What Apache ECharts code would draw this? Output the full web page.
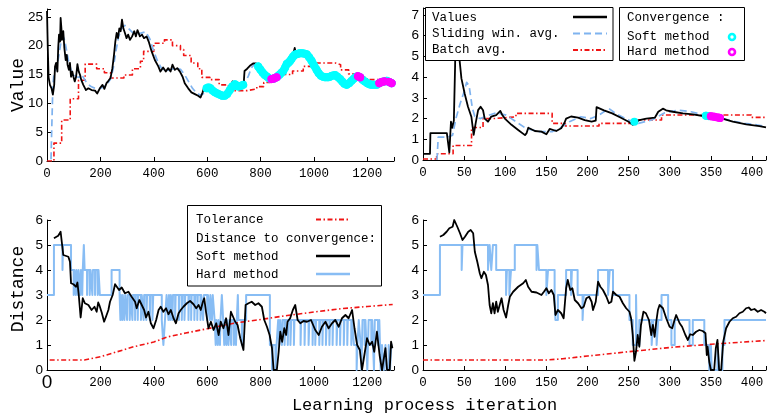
<!DOCTYPE html>
<html>
<head>
<meta charset="utf-8">
<script src="https://cdn.jsdelivr.net/npm/echarts/dist/echarts.min.js"></script>
<style>
  html, body { margin: 0; padding: 0; background: #fff; }
  #chart { width: 769px; height: 415px; }
</style>
</head>
<body>
<div id="chart"></div>
<script>
// ---------- Long run (iterations 0..1300) ----------
const valuesLong = [[0,26.0],[3,19.5],[6,14.5],[11,13.2],[17,12.6],[22,11.5],[24,11.8],[27,13.2],[30,16.4],[34,17.0],[39,15.5],[42,19.6],[45,21.9],[49,20.7],[51,24.8],[54,23.0],[56,21.0],[61,22.5],[65,19.6],[70,17.5],[74,18.4],[77,16.7],[82,15.8],[86,17.0],[90,14.6],[95,15.5],[99,14.6],[104,13.8],[109,14.6],[114,16.8],[119,15.5],[124,14.9],[128,14.1],[136,13.2],[146,12.3],[155,12.6],[167,12.3],[180,12.2],[188,11.7],[198,12.6],[208,13.2],[215,12.5],[223,13.5],[230,13.9],[238,14.4],[245,16.1],[251,18.4],[256,20.7],[261,22.2],[266,21.3],[271,23.0],[276,22.5],[281,24.5],[286,23.0],[292,22.2],[298,21.3],[304,21.9],[311,21.0],[319,21.6],[327,22.5],[333,21.6],[339,22.7],[348,21.6],[356,21.9],[363,21.3],[373,21.6],[381,20.7],[392,19.0],[404,17.5],[417,16.4],[425,15.5],[435,16.2],[445,15.5],[454,16.1],[463,15.5],[470,16.7],[479,15.8],[488,16.1],[498,15.5],[508,14.6],[516,13.5],[529,12.6],[541,11.9],[554,11.6],[566,11.3],[575,11.0],[583,11.9],[590,12.9],[598,12.9],[604,12.5],[610,12.9],[616,12.3],[622,12.4],[629,11.8],[636,12.0],[643,11.4],[650,11.6],[657,11.1],[664,11.5],[670,11.2],[677,11.9],[684,12.2],[690,13.0],[695,13.8],[698,14.1],[702,13.3],[708,13.5],[714,12.7],[720,13.2],[727,12.8],[733,13.0],[737,13.4],[740,15.6],[745,15.4],[750,16.0],[755,15.8],[760,16.5],[766,16.8],[772,16.9],[778,17.2],[784,16.9],[790,16.4],[797,16.0],[804,15.4],[812,15.2],[820,14.6],[828,14.7],[836,14.1],[844,14.4],[852,14.0],[860,14.8],[867,14.6],[874,15.4],[881,15.2],[888,16.1],[895,16.4],[902,17.3],[909,17.1],[916,18.0],[922,18.4],[928,19.6],[932,18.7],[938,18.9],[945,18.4],[952,18.9],[960,18.5],[968,18.8],[976,18.2],[984,17.9],[992,17.2],[1000,16.8],[1008,15.9],[1016,15.4],[1024,14.6],[1032,14.8],[1040,14.3],[1048,14.7],[1056,14.4],[1064,14.9],[1072,14.6],[1080,15.1],[1088,14.5],[1096,14.3],[1104,13.6],[1112,13.6],[1120,13.0],[1128,13.4],[1136,13.7],[1144,14.1],[1152,14.2],[1160,14.8],[1168,14.5],[1176,14.6],[1184,13.9],[1192,13.9],[1200,13.3],[1208,13.5],[1216,13.0],[1224,13.4],[1232,13.1],[1240,13.6],[1248,13.4],[1256,13.9],[1264,13.6],[1272,14.0],[1280,13.6],[1288,13.6],[1294,13.3]];

const slidingLong = [[15,0.3],[18,6],[22,13],[26,15.2],[32,15.5],[38,16.5],[45,18.5],[52,20.5],[60,21.6],[66,21],[72,19.5],[80,17.5],[90,15.8],[100,15.0],[110,14.6],[120,14.5],[130,15],[140,14.2],[150,13.5],[165,12.9],[180,12.6],[195,12.5],[210,12.8],[225,13.3],[238,14.2],[248,16],[258,19],[268,21.5],[280,23],[292,23.5],[305,23],[320,22.3],[340,22],[355,22.2],[370,22.4],[385,21.2],[400,19],[415,17.2],[430,16],[445,15.6],[460,15.8],[480,16.1],[500,15.9],[515,15],[530,13.8],[545,12.6],[560,11.8],[575,11.4],[590,11.8],[598,12.6],[605,12.8],[612,12.6],[620,12.2],[629,11.9],[638,11.7],[648,11.5],[657,11.3],[666,11.3],[675,11.6],[685,12.3],[694,12.9],[704,13.3],[710,13.1],[716,12.9],[725,13.0],[735,13.2],[745,13.8],[755,14.8],[766,16.2],[778,16.8],[791,16.4],[800,15.8],[808,15.3],[816,14.9],[825,14.6],[833,14.3],[841,14.2],[850,14.3],[860,14.5],[866,14.8],[872,15.0],[878,15.3],[885,15.6],[892,16.2],[898,16.8],[904,17.0],[910,17.3],[916,17.7],[922,18.1],[928,18.4],[933,18.5],[940,18.6],[948,18.7],[956,18.7],[965,18.6],[973,18.5],[982,18.0],[991,17.4],[1000,16.6],[1010,15.8],[1018,15.2],[1026,14.8],[1035,14.6],[1043,14.5],[1052,14.5],[1060,14.6],[1068,14.8],[1079,14.9],[1088,14.6],[1098,14.2],[1106,13.8],[1114,13.4],[1123,13.2],[1132,13.5],[1141,13.9],[1150,14.3],[1158,14.6],[1165,14.7],[1173,14.5],[1182,14.1],[1191,13.8],[1200,13.5],[1208,13.3],[1216,13.2],[1225,13.2],[1235,13.2],[1245,13.5],[1254,13.7],[1263,13.8],[1273,13.9],[1282,13.7],[1291,13.5]];

const batchLong = [[0,0],[26,3.1],[55,7.1],[87,10.8],[118,14.0],[143,16.8],[186,16.0],[215,15.3],[238,14.4],[288,14.9],[320,16.0],[350,17.3],[362,19.0],[400,20.4],[440,21.0],[470,20.0],[500,19.3],[512,18.3],[540,17.0],[565,16.0],[580,14.5],[610,14.1],[645,13.2],[680,12.2],[750,12.5],[786,12.9],[812,13.6],[835,14.4],[870,15.0],[920,15.6],[960,16.4],[1000,17.0],[1080,16.7],[1100,15.8],[1130,15.1],[1160,14.5],[1200,14.1],[1260,13.9],[1296,13.9]];

// iteration ranges where convergence was detected
const softLongRanges = [[598,735],[791,1291]];
const hardLongRanges = [[838,862],[1163,1174],[1243,1266],[1278,1291]];

const toleranceLong = [[10,0.4],[140,0.4],[200,0.53],[260,0.72],[325,0.93],[400,1.12],[450,1.32],[520,1.48],[600,1.65],[700,1.87],[800,2.02],[900,2.18],[1000,2.32],[1100,2.45],[1200,2.54],[1295,2.62]];

const softDistLong = [[26,5.27],[42,5.37],[51,5.53],[57,5.56],[61,4.6],[67,4.63],[80,4.53],[86,4.33],[90,3.47],[99,3.43],[109,3.33],[114,3.5],[119,3.0],[126,2.1],[134,2.87],[142,2.67],[155,2.6],[167,2.4],[178,2.53],[186,2.33],[192,2.7],[196,2.6],[205,2.3],[214,1.93],[221,2.13],[230,2.4],[236,2.73],[246,3.0],[255,3.43],[261,3.5],[270,3.2],[280,3.3],[292,3.07],[305,3.13],[317,2.93],[330,2.73],[336,2.47],[346,2.8],[355,2.6],[364,2.4],[371,2.1],[380,2.33],[389,1.87],[399,1.67],[409,2.0],[418,2.4],[426,2.53],[436,2.33],[446,2.47],[455,2.23],[464,2.4],[474,2.07],[483,1.87],[493,2.27],[501,2.4],[511,2.53],[524,2.67],[536,2.76],[549,2.63],[559,2.47],[568,2.6],[576,2.4],[584,2.73],[589,2.87],[596,2.3],[605,1.67],[614,1.93],[624,1.6],[634,1.87],[643,1.4],[651,1.93],[661,1.67],[671,2.07],[680,1.4],[689,2.33],[696,2.4],[705,1.93],[714,1.8],[724,1.27],[736,0.8],[744,2.6],[755,2.67],[767,2.73],[780,2.6],[792,2.67],[805,2.53],[814,2.0],[824,1.73],[834,1.4],[843,0.87],[849,0],[861,0],[868,0.73],[874,1.53],[881,1.13],[889,1.67],[896,1.4],[901,1.93],[911,2.07],[921,2.4],[930,2.6],[939,2.0],[949,1.87],[961,1.96],[974,1.93],[989,2.0],[1005,1.6],[1018,1.4],[1030,1.73],[1043,1.93],[1055,1.67],[1068,1.87],[1080,2.0],[1093,1.73],[1105,2.07],[1118,2.2],[1130,2.07],[1143,2.4],[1152,1.67],[1162,1.0],[1172,0.8],[1180,0],[1189,0.6],[1199,1.27],[1209,1.0],[1218,1.13],[1226,0.73],[1236,1.53],[1246,0.6],[1255,0],[1268,0.87],[1274,0],[1284,0],[1289,1.13],[1294,0.87]];

const hardDistLong = [[0,3],[26,5],[58,4],[60,5],[90,4],[100,3],[102,4],[108,3],[110,4],[116,3],[118,4],[124,3],[127,4],[132,3],[134,4],[138,5],[141,4],[150,3],[152,4],[160,3],[163,4],[170,3],[172,4],[180,3],[182,4],[190,3],[193,4],[198,3],[242,4],[272,3],[275,2],[277,3],[282,2],[284,3],[290,2],[293,3],[300,2],[302,3],[310,2],[313,3],[320,2],[322,3],[330,2],[332,3],[340,2],[342,3],[352,2],[355,3],[362,2],[364,3],[372,2],[375,3],[385,2],[387,3],[395,2],[398,3],[430,2],[436,1],[442,2],[448,3],[455,2],[457,3],[462,2],[464,3],[470,2],[472,3],[480,2],[482,3],[494,2],[496,3],[505,2],[507,3],[515,2],[518,3],[530,2],[532,3],[540,2],[542,3],[552,2],[555,3],[563,2],[565,3],[575,2],[578,3],[585,2],[588,3],[600,2],[603,3],[610,2],[612,3],[618,2],[621,3],[628,2],[632,1],[634,2],[640,1],[642,2],[648,1],[650,2],[655,3],[660,2],[664,1],[666,2],[672,1],[674,2],[680,1],[683,2],[690,1],[692,2],[700,1],[702,2],[708,1],[711,2],[715,3],[717,2],[730,1],[733,2],[746,3],[835,1],[843,0],[846,1],[856,0],[860,1],[866,2],[870,1],[873,2],[880,1],[882,2],[890,1],[893,2],[902,1],[904,2],[912,1],[915,2],[925,1],[927,2],[950,1],[952,2],[965,1],[967,2],[980,1],[983,2],[995,1],[997,2],[1005,1],[1008,2],[1020,1],[1023,2],[1032,1],[1034,2],[1045,1],[1048,2],[1058,1],[1060,2],[1070,1],[1072,2],[1085,1],[1088,2],[1098,1],[1100,2],[1112,1],[1114,2],[1125,1],[1127,2],[1140,1],[1143,2],[1150,1],[1160,0],[1163,1],[1168,2],[1175,1],[1178,0],[1182,2],[1190,1],[1193,2],[1200,0],[1205,2],[1215,1],[1218,2],[1225,0],[1228,2],[1240,1],[1245,2],[1250,0],[1255,1],[1262,0],[1268,1],[1272,0],[1280,1],[1285,0],[1290,1],[1294,1]];

// ---------- Short run (iterations 0..417) ----------
const valuesShort = [[0,0.3],[8.5,0.3],[9,1.3],[29,1.3],[32,0.37],[34,1.85],[35.5,1.55],[37.5,1.9],[39,4.5],[40.5,7.8],[42,6.5],[44,5.0],[46.7,3.94],[50.7,3.2],[54.7,2.57],[58.8,2.09],[61.6,1.21],[64,1.77],[67,2.41],[70,2.57],[73,2.4],[75,2.0],[79,1.85],[83,2.1],[89,2.17],[94,2.37],[96,2.2],[99.5,2.0],[107.6,1.7],[115.7,1.45],[124,1.2],[126,1.3],[128,1.56],[136,1.4],[144,1.37],[150,1.24],[154,1.5],[162,1.4],[168,1.53],[172,1.8],[174,2.0],[180,2.1],[188.5,2.05],[196.6,1.93],[205,1.85],[207,1.85],[210,1.9],[211,2.55],[220,2.4],[230,2.25],[240,2.05],[250,1.85],[255,1.7],[263,1.93],[271.5,2.0],[282,2.05],[286,2.33],[291.6,2.48],[295.6,2.4],[303.7,2.33],[316,2.25],[328,2.2],[344,2.1],[361,2.03],[376.6,1.85],[393,1.72],[409,1.64],[417,1.58]];

const slidingShort = [[17,0],[18.5,1.1],[30,1.1],[36,1.2],[40,2.0],[45,2.7],[50,3.3],[53,3.75],[56,3.6],[60,2.5],[63,2.1],[69.4,2.0],[80.9,2.17],[89,2.28],[101,2.17],[113,1.85],[125,1.53],[141,1.37],[157,1.37],[166,1.53],[178,1.85],[192,2.09],[204,2.0],[214,2.17],[226,2.49],[234,2.25],[250,1.93],[257,1.85],[262,1.77],[278,1.93],[294,2.28],[310,2.41],[326,2.33],[342,2.17],[344,2.14],[347,2.12],[350,2.11],[354,2.09],[359,2.05],[361,2.03],[375,1.89],[391,1.77],[407,1.69],[417,1.61]];

const batchShort = [[0,0.05],[16.6,0.3],[36.6,0.7],[59,1.57],[73,2.0],[85,2.08],[113,2.25],[157,1.77],[173,1.64],[214,1.77],[254,1.93],[290,2.17],[399,2.06],[417,2.06]];

const softShortRanges = [[256,258],[343,348]];
const hardShortRanges = [[349,362]];

const toleranceShort = [[0,0.4],[150,0.4],[170,0.45],[200,0.56],[250,0.73],[300,0.9],[350,1.03],[417,1.18]];

const softDistShort = [[20.6,5.33],[24.7,5.4],[28.7,5.53],[32,5.67],[34,5.6],[36,5.73],[38,6.0],[39.6,6.07],[41.7,5.73],[45,5.47],[48,5.2],[51,5.33],[55,5.53],[58,5.6],[61,5.47],[63,4.73],[66,4.33],[69,3.87],[71,3.67],[74,3.93],[76.5,3.8],[79,3.4],[81,2.6],[83,2.27],[85,2.67],[87,2.27],[89,2.73],[91,2.33],[93,2.27],[95.5,2.87],[98,2.4],[101,2.1],[103.6,2.6],[105.6,2.93],[109.6,3.13],[115.7,3.33],[121.8,3.47],[125,3.6],[127.8,3.33],[132,3.13],[138,3.1],[144,3.0],[147,3.13],[150,3.27],[153,3.07],[156,3.2],[159,3.0],[161,2.2],[164,2.4],[168,2.27],[171,2.07],[174,3.27],[176,3.6],[179,3.2],[181.6,3.27],[184.5,2.8],[188.5,2.67],[192.6,2.47],[195.4,2.53],[198.6,2.87],[202,2.93],[205,2.73],[206.7,2.4],[210,2.73],[212.8,3.53],[215.6,3.33],[218.8,3.2],[223,2.93],[226,2.67],[229,2.73],[231,3.13],[235,3.0],[239,2.93],[243,2.67],[247,2.47],[251,2.33],[253,2.07],[255,1.4],[257,0.37],[259,0.73],[261,1.4],[263,0.93],[265,1.8],[268,2.33],[271,2.27],[274.7,2.0],[277.5,1.4],[279.5,1.8],[281.6,1.33],[283.6,1.93],[285.6,2.4],[287.6,2.6],[291.7,2.47],[295.7,2.07],[299.8,1.73],[303,1.67],[305.8,2.0],[307.8,2.2],[312,1.87],[315,1.73],[319,1.4],[322,1.2],[324.8,1.43],[328,1.4],[332,1.53],[336,1.6],[340,1.56],[343.4,1.47],[345,0.6],[346,0.93],[348,0.33],[350,0],[354,0],[356,0.87],[358,1.2],[360,0],[362.5,0],[365,1.13],[368.5,1.67],[372.6,1.93],[376.6,2.07],[380.7,2.13],[384.7,2.27],[388.8,2.33],[392.8,2.47],[396,2.5],[399,2.4],[403,2.44],[407,2.33],[411,2.4],[415,2.33],[417,2.27]];

const hardDistShort = [[0,3],[20.6,5],[47,4],[48,5],[79,4],[81,5],[83,4],[85,5],[89,4],[101,3],[102,4],[105,3],[107,4],[111.6,5],[138,4],[139,5],[141,4],[150,3],[152,4],[160,3],[161,2],[164,3],[174,4],[180,3],[181,4],[188,3],[194,2],[195.4,3],[212.8,4],[225,3],[227,4],[231,3],[251,2],[255,1],[259,3],[260,1],[263,2],[278,1],[280,2],[284,1],[286,2],[290,3],[298,2],[302,1],[306,2],[324,1],[328,2],[342,1],[348,0],[350,1],[351,0],[358,1],[360,0],[364,1],[366.5,2],[417,2]];

// ---------- tick settings ----------
const longTickStep = 200, shortTickStep = 50;
const valueTickStep = 5, shortValueTickStep = 1, distTickStep = 1;

// ---------- styling ----------
const MONO = '"Liberation Mono", "DejaVu Sans Mono", monospace';
const SANS = '"Liberation Sans", Arial, sans-serif';
const C_VAL = '#000000', C_SLIDE = '#7fb3ef', C_BATCH = '#f01414';
const C_SOFT = '#00ffff', C_HARD = '#ff00ff', C_HARDDIST = '#88bdf4';
const DASH = [7, 4], DASHDOT = [5, 2.5, 1.5, 2.5];

// keep only the points of a curve lying inside the given iteration ranges
function withinRanges(curve, ranges) {
  const out = [];
  let prevIn = false;
  curve.forEach(p => {
    const inside = ranges.some(r => p[0] >= r[0] && p[0] <= r[1]);
    if (inside) out.push(p);
    else if (prevIn) out.push([p[0], '-']);
    prevIn = inside;
  });
  return out;
}

function onStep(v, step) {
  return Math.abs(v / step - Math.round(v / step)) < 1e-6;
}
function xAxis(gi, max, step, bigZero) {
  return {
    type: 'value', gridIndex: gi, min: 0, max: max, interval: step,
    axisLine: { show: true, onZero: false, lineStyle: { color: '#000', width: 1 } },
    axisTick: { show: true, inside: true, length: 4, lineStyle: { color: '#000' } },
    splitLine: { show: false },
    axisLabel: {
      color: '#000', fontFamily: MONO, fontSize: 12.5, margin: 6,
      formatter: v => !onStep(v, step) ? '' : (bigZero && v === 0 ? '{big|0}' : String(v)),
      rich: { big: { fontFamily: SANS, fontSize: 19, color: '#000', lineHeight: 13 } }
    }
  };
}
function yAxis(gi, max, step) {
  return {
    type: 'value', gridIndex: gi, min: 0, max: max, interval: step,
    axisLine: { show: true, onZero: false, lineStyle: { color: '#000', width: 1 } },
    axisTick: { show: true, inside: true, length: 4, lineStyle: { color: '#000' } },
    splitLine: { show: false },
    axisLabel: {
      color: '#000', fontFamily: SANS, fontSize: 13.5, margin: 4,
      formatter: v => onStep(v, step) ? String(v) : ''
    }
  };
}
function curve(gi, data, color, width, dash, z, step) {
  return {
    type: 'line', xAxisIndex: gi, yAxisIndex: gi, data: data,
    showSymbol: false, symbol: 'none', step: step || false, z: z,
    lineStyle: { color: color, width: width, type: dash || 'solid', cap: 'butt', join: 'round' },
    silent: true, animation: false
  };
}
function convergence(gi, data, color, z) {
  return {
    type: 'line', xAxisIndex: gi, yAxisIndex: gi, data: data, z: z,
    showSymbol: true, showAllSymbol: true, symbol: 'circle', symbolSize: 8,
    itemStyle: { color: color, borderWidth: 0 },
    lineStyle: { color: color, width: 8, cap: 'round', join: 'round' },
    connectNulls: false, silent: true, animation: false
  };
}

// ---------- legend and title graphics ----------
function label(x, y, s, size) {
  return {
    type: 'text', x: x, y: y, z: 100, silent: true,
    style: { text: s, font: size + 'px ' + MONO, fill: '#000',
             textAlign: 'left', textVerticalAlign: 'middle', align: 'left', verticalAlign: 'middle' }
  };
}
function box(x, y, w, h) {
  return { type: 'rect', z: 99, silent: true, shape: { x: x, y: y, width: w, height: h },
           style: { fill: '#fff', stroke: '#000', lineWidth: 1 } };
}
function sample(x1, x2, y, color, width, dash) {
  return { type: 'line', z: 100, silent: true, shape: { x1: x1, y1: y, x2: x2, y2: y },
           style: { stroke: color, lineWidth: width, lineDash: dash || null } };
}
function ring(cx, cy, color) {
  return { type: 'circle', z: 100, silent: true, shape: { cx: cx, cy: cy, r: 3 },
           style: { fill: '#fff', stroke: color, lineWidth: 2.6 } };
}
function centered(x, y, s, size, rot) {
  return {
    type: 'text', x: x, y: y, z: 100, silent: true, rotation: rot || 0,
    style: { text: s, font: size + 'px ' + MONO, fill: '#000',
             textAlign: 'center', textVerticalAlign: 'middle', align: 'center', verticalAlign: 'middle' }
  };
}

const graphics = [
  // legend of the value panels
  box(425.5, 7.5, 187.5, 53),
  label(432, 17.5, 'Values', 12.5),
  label(432, 33.5, 'Sliding win. avg.', 12.5),
  label(432, 50, 'Batch avg.', 12.5),
  sample(573, 607, 17, C_VAL, 2.5),
  sample(573, 607, 33.5, C_SLIDE, 2, DASH),
  sample(573, 607, 50, C_BATCH, 2, DASHDOT),
  box(619.5, 7.5, 125, 53),
  label(627, 17.5, 'Convergence :', 12.5),
  label(627, 37, 'Soft method', 12.5),
  label(627, 52, 'Hard method', 12.5),
  ring(732, 37, C_SOFT),
  ring(732, 52, C_HARD),
  // legend of the distance panels
  box(187.5, 205.5, 194, 80.5),
  label(196, 220, 'Tolerance', 12.5),
  label(196, 239, 'Distance to convergence:', 12.5),
  label(196, 256.5, 'Soft method', 12.5),
  label(196, 274.5, 'Hard method', 12.5),
  sample(316, 350, 219.5, C_BATCH, 2, DASHDOT),
  sample(316, 350, 256, C_VAL, 2.5),
  sample(316, 350, 274, C_HARDDIST, 2.5),
  // axis titles
  centered(18.5, 85, 'Value', 18, Math.PI / 2),
  centered(18.5, 289, 'Distance', 18, Math.PI / 2),
  centered(424.5, 405, 'Learning process iteration', 17)
];

const option = {
  animation: false,
  backgroundColor: '#fff',
  grid: [
    { left: 47, top: 9, width: 347, height: 152 },
    { left: 423, top: 8, width: 345, height: 152 },
    { left: 47, top: 220, width: 347, height: 150 },
    { left: 423, top: 220, width: 345, height: 150 }
  ],
  xAxis: [
    xAxis(0, 1300, longTickStep),
    xAxis(1, 417, shortTickStep),
    xAxis(2, 1300, longTickStep, true),
    xAxis(3, 417, shortTickStep)
  ],
  yAxis: [
    yAxis(0, 26.35, valueTickStep),
    yAxis(1, 7.34, shortValueTickStep),
    yAxis(2, 6, distTickStep),
    yAxis(3, 6, distTickStep)
  ],
  series: [
    curve(0, batchLong, C_BATCH, 1.6, DASHDOT, 2, 'end'),
    curve(0, slidingLong, C_SLIDE, 1.7, DASH, 3),
    curve(0, valuesLong, C_VAL, 1.8, 'solid', 4),
    convergence(0, withinRanges(slidingLong, softLongRanges), C_SOFT, 5),
    convergence(0, withinRanges(slidingLong, hardLongRanges), C_HARD, 6),

    curve(1, batchShort, C_BATCH, 1.6, DASHDOT, 2, 'end'),
    curve(1, slidingShort, C_SLIDE, 1.7, DASH, 3),
    curve(1, valuesShort, C_VAL, 1.8, 'solid', 4),
    convergence(1, withinRanges(slidingShort, softShortRanges), C_SOFT, 5),
    convergence(1, withinRanges(slidingShort, hardShortRanges), C_HARD, 6),

    curve(2, hardDistLong, C_HARDDIST, 2, 'solid', 2, 'end'),
    curve(2, toleranceLong, C_BATCH, 1.6, DASHDOT, 3),
    curve(2, softDistLong, C_VAL, 1.8, 'solid', 4),

    curve(3, hardDistShort, C_HARDDIST, 2, 'solid', 2, 'end'),
    curve(3, toleranceShort, C_BATCH, 1.6, DASHDOT, 3),
    curve(3, softDistShort, C_VAL, 1.8, 'solid', 4)
  ],
  graphic: graphics
};

const chart = echarts.init(document.getElementById('chart'), null, { renderer: 'canvas' });
chart.setOption(option);
</script>
</body>
</html>
